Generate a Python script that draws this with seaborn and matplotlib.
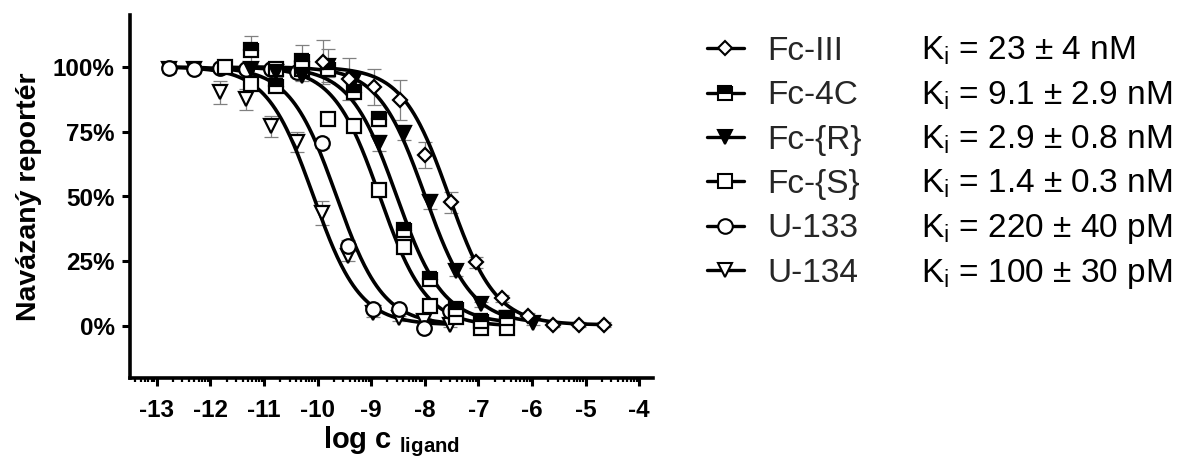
import numpy as np
import pandas as pd
import seaborn as sns
import matplotlib.pyplot as plt
from matplotlib.lines import Line2D
from matplotlib.ticker import FixedLocator, PercentFormatter

# ---------------------------------------------------------------------
# Data (log c in M, bound reporter in %)
# ---------------------------------------------------------------------
names = ['Fc-III', 'Fc-4C', 'Fc-{R}', 'Fc-{S}', 'U-133', 'U-134']
ki_labels = [
    r'K$_\mathregular{i}$ = 23 ± 4 nM',
    r'K$_\mathregular{i}$ = 9.1 ± 2.9 nM',
    r'K$_\mathregular{i}$ = 2.9 ± 0.8 nM',
    r'K$_\mathregular{i}$ = 1.4 ± 0.3 nM',
    r'K$_\mathregular{i}$ = 220 ± 40 pM',
    r'K$_\mathregular{i}$ = 100 ± 30 pM',
]

x_fc3 = [-9.90, -9.42, -8.94, -8.47, -7.99, -7.51, -7.04, -6.56, -6.08, -5.60, -5.13, -4.65]
y_fc3 = [101.8, 95.3, 92.1, 87.2, 66.1, 47.7, 24.6, 10.7, 3.9, 0.6, 0.6, 0.6]
e_fc3 = [8.4, 8.0, 7.0, 7.8, 5.0, 4.0, 2.0, 1.5, 1.0, 1.0, 1.0, 1.0]

x_4c = [-11.24, -10.77, -10.29, -9.81, -9.33, -8.86, -8.38, -7.90, -7.42, -6.95, -6.47]
y_4c = [106.4, 92.6, 102.3, 99.0, 90.4, 79.8, 37.0, 18.2, 6.5, 2.0, 3.2]
e_4c = [5.5, 2.0, 6.0, 3.0, 2.0, 2.5, 2.0, 2.0, 1.0, 1.0, 1.0]

x_r = [-11.24, -10.77, -10.29, -9.81, -9.33, -8.86, -8.38, -7.90, -7.42, -6.95, -6.47, -5.99]
y_r = [99.0, 98.0, 96.5, 100.5, 95.0, 70.7, 74.6, 48.0, 21.4, 8.4, 3.0, 1.3]
e_r = [2.0, 2.0, 2.0, 6.5, 3.0, 3.0, 3.0, 3.0, 2.0, 1.0, 1.0, 1.0]

x_s = [-11.72, -11.24, -10.77, -10.29, -9.81, -9.33, -8.86, -8.38, -7.90, -7.42, -6.95, -6.47]
y_s = [100.0, 93.4, 99.2, 99.0, 79.8, 77.0, 52.5, 30.5, 7.8, 3.5, -0.8, -0.6]
e_s = [2.0, 2.0, 2.0, 2.0, 2.0, 2.0, 2.0, 2.0, 1.5, 1.0, 1.0, 1.0]

x_u = [-12.77, -12.30, -11.82, -11.34, -10.87, -10.39, -9.91, -9.44, -8.96, -8.48, -8.01, -7.53]
y_133 = [99.6, 99.2, 99.6, 99.0, 99.0, 98.0, 70.7, 31.1, 6.5, 6.5, -0.6, 6.0]
e_133 = [1.5, 1.5, 1.5, 1.5, 1.5, 2.0, 2.0, 2.0, 1.5, 1.0, 1.0, 1.0]
y_134 = [99.0, 99.0, 90.2, 87.5, 77.0, 71.0, 43.7, 27.0, 5.0, 3.1, 2.0, 0.6]
e_134 = [1.5, 1.5, 4.5, 4.0, 4.0, 4.0, 4.5, 2.0, 1.5, 1.0, 1.0, 1.0]

# one-site fit parameters (hill slope -1)
log_ic50 = [-7.55, -8.53, -8.00, -8.84, -9.65, -10.08]
fit_top = [100.0, 100.0, 100.0, 100.0, 100.0, 100.0]
fit_bottom = [0.5, 1.0, 1.0, 0.0, 0.5, 0.5]

xs = [x_fc3, x_4c, x_r, x_s, x_u, x_u]
ys = [y_fc3, y_4c, y_r, y_s, y_133, y_134]
es = [e_fc3, e_4c, e_r, e_s, e_133, e_134]

# marker styles
styles = [
    dict(marker='D', markersize=7.6, markerfacecolor='white'),
    dict(marker='s', markersize=10, markerfacecolor='black', fillstyle='top',
         markerfacecoloralt='white'),
    dict(marker='v', markersize=10.5, markerfacecolor='black'),
    dict(marker='s', markersize=10, markerfacecolor='white'),
    dict(marker='o', markersize=10.5, markerfacecolor='white'),
    dict(marker='v', markersize=10.5, markerfacecolor='white'),
]

# ---------------------------------------------------------------------
sns.set_theme(style='ticks')
plt.rcParams['font.family'] = ['Liberation Sans', 'DejaVu Sans']
plt.rcParams['mathtext.fontset'] = 'custom'
plt.rcParams['mathtext.rm'] = 'Liberation Sans'
plt.rcParams['mathtext.bf'] = 'Liberation Sans:bold'
plt.rcParams['mathtext.it'] = 'Liberation Sans:italic'

fig = plt.figure(figsize=(11.79, 4.61), dpi=100)
x_left, x_right = -13.5, -3.75
ax = fig.add_axes([130 / 1179, 83 / 461, (x_right - x_left) * 53.6 / 1179, 363 / 461])

n = len(names)
for i in range(n):
    z = 10 + (n - i)
    # fitted curve
    xc = np.linspace(min(xs[i]), max(xs[i]), 300)
    yc = fit_bottom[i] + (fit_top[i] - fit_bottom[i]) / (1 + 10 ** (xc - log_ic50[i]))
    df = pd.DataFrame({'x': xc, 'y': yc})
    sns.lineplot(data=df, x='x', y='y', ax=ax, color='black', lw=2.6,
                 estimator=None, sort=True, zorder=5)
    # error bars
    ax.errorbar(xs[i], ys[i], yerr=es[i], fmt='none', ecolor='0.5',
                elinewidth=0.9, capsize=5, capthick=0.9, zorder=4)
    # points
    ax.plot(xs[i], ys[i], linestyle='none', markeredgecolor='black',
            markeredgewidth=1.6, zorder=z, **styles[i])

ax.set_xlim(x_left, x_right)
ax.set_ylim(-20, 120)
ax.set_xticks(np.arange(-13, -3))
ax.set_xticklabels([str(v) for v in range(-13, -3)])
minor = [d + np.log10(k) for d in range(-14, -3) for k in range(2, 10)]
minor = [m for m in minor if x_left <= m <= x_right]
ax.xaxis.set_minor_locator(FixedLocator(minor))
ax.set_yticks([0, 25, 50, 75, 100])
ax.yaxis.set_major_formatter(PercentFormatter(decimals=0))

for side in ['top', 'right']:
    ax.spines[side].set_visible(False)
for side in ['left', 'bottom']:
    ax.spines[side].set_linewidth(2.6)
    ax.spines[side].set_color('black')

ax.tick_params(axis='both', which='major', length=6, width=2.2, color='black',
               labelsize=17.5, labelcolor='black')
ax.tick_params(axis='x', which='major', pad=9)
ax.tick_params(axis='y', which='major', pad=5)
ax.tick_params(axis='x', which='minor', length=3, width=1.6, color='black')
for lbl in ax.get_xticklabels() + ax.get_yticklabels():
    lbl.set_fontweight('bold')

ax.set_ylabel('Navázaný reportér', fontsize=20.5, fontweight='bold', labelpad=8,
              color='black')
ax.set_xlabel(r'log c $_\mathbf{ligand}$', fontsize=21, fontweight='bold',
              labelpad=2, color='black')

# legend with names
handles = [Line2D([0], [0], color='black', lw=2.4, markeredgecolor='black',
                  markeredgewidth=1.5, **styles[i]) for i in range(n)]
leg = fig.legend(handles, names, loc='upper left',
                 bbox_to_anchor=(707 / 1179, 1 - 36 / 461),
                 bbox_transform=fig.transFigure, fontsize=24, frameon=False,
                 handlelength=1.1, handletextpad=0.72, labelspacing=0.4,
                 borderpad=0, borderaxespad=0, numpoints=1)

# Ki column, aligned to the legend baselines
fig.canvas.draw()
inv = fig.transFigure.inverted()
for t, ki in zip(leg.get_texts(), ki_labels):
    bx, by = t.get_transform().transform(t.get_position())
    fy = inv.transform((bx, by))[1]
    fig.text(921 / 1179, fy, ki, fontsize=24, va='baseline', ha='left',
             color='black')

fig.savefig('out.png', dpi=100)
